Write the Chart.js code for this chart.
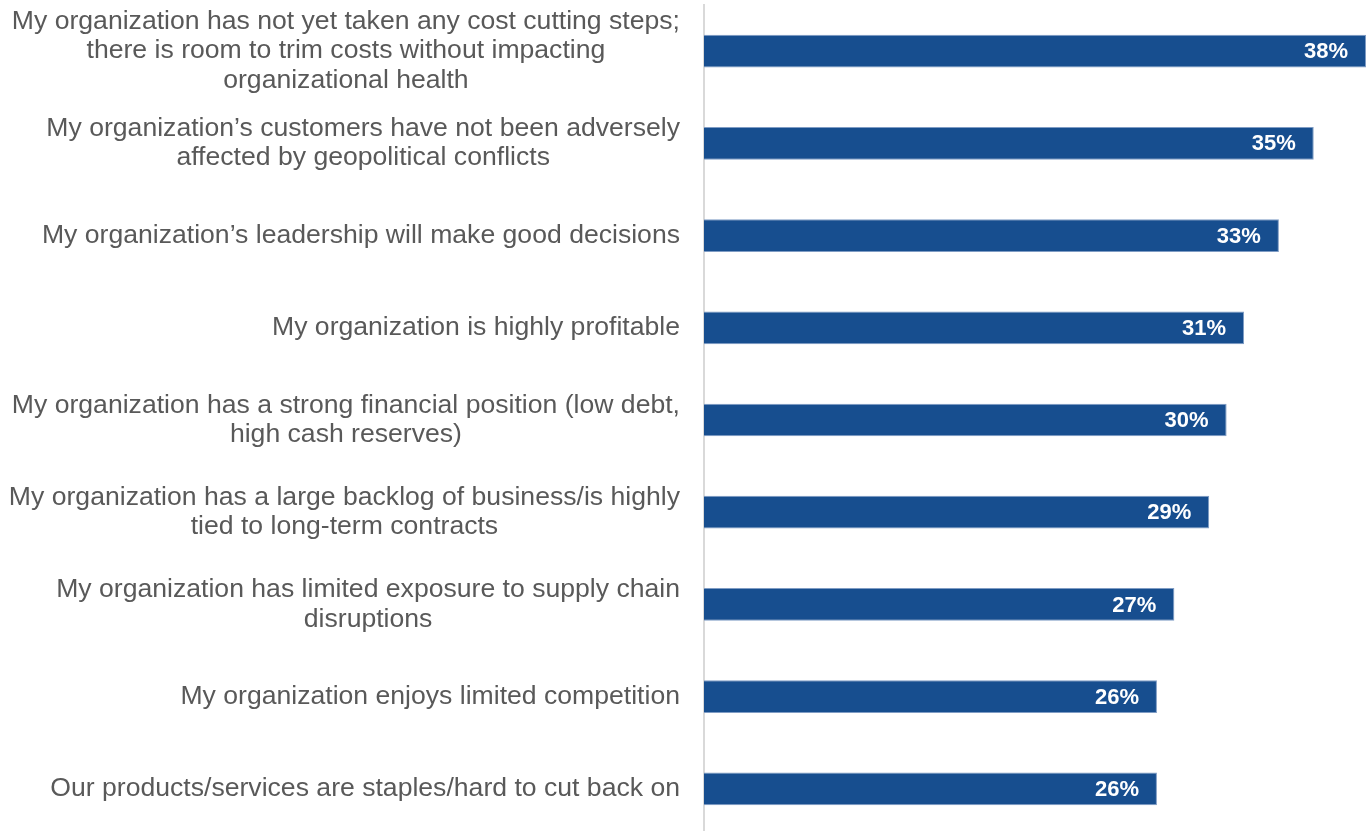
<!DOCTYPE html>
<html>
<head>
<meta charset="utf-8">
<script src="https://cdn.jsdelivr.net/npm/chart.js@4/dist/chart.umd.min.js"></script>
<style>
  html, body { margin: 0; padding: 0; background: #fff; overflow: hidden; }
  #wrap { position: absolute; left: 0; top: 0; width: 1367px; height: 836px; }
</style>
</head>
<body>
<div id="wrap"><canvas id="barChart"></canvas></div>
<script>
// Categories (one array per line of the label)
const categories = [
    ['My organization has not yet taken any cost cutting steps;', 'there is room to trim costs without impacting', 'organizational health'],
    ['My organization’s customers have not been adversely', 'affected by geopolitical conflicts'],
    ['My organization’s leadership will make good decisions'],
    ['My organization is highly profitable'],
    ['My organization has a strong financial position (low debt,', 'high cash reserves)'],
    ['My organization has a large backlog of business/is highly', 'tied to long-term contracts'],
    ['My organization has limited exposure to supply chain', 'disruptions'],
    ['My organization enjoys limited competition'],
    ['Our products/services are staples/hard to cut back on']
];
const values = [38, 35, 33, 31, 30, 29, 27, 26, 26];
const xMax = 38;

const LABEL_FONT = '26.6px "Liberation Sans", Arial, sans-serif';
const VALUE_FONT = 'bold 22px "Liberation Sans", Arial, sans-serif';
const AXIS_LEFT = 704;

// Category labels: each block centred on itself, blocks right-aligned against the axis
const categoryLabels = {
    id: 'categoryLabels',
    afterDraw(chart) {
        const ctx = chart.ctx;
        const y = chart.scales.y;
        const lineH = 29.5;
        ctx.save();
        ctx.font = LABEL_FONT;
        ctx.fillStyle = '#595959';
        ctx.textAlign = 'center';
        ctx.textBaseline = 'middle';
        categories.forEach((lines, i) => {
            const widest = Math.max(...lines.map(l => ctx.measureText(l).width));
            const cx = AXIS_LEFT - 24 - widest / 2;
            const cy = y.getPixelForTick(i);
            lines.forEach((line, j) => {
                ctx.fillText(line, cx, cy + (j - (lines.length - 1) / 2) * lineH);
            });
        });
        ctx.restore();
    }
};

// Percent values inside the end of each bar
const valueLabels = {
    id: 'valueLabels',
    afterDatasetsDraw(chart) {
        const ctx = chart.ctx;
        const meta = chart.getDatasetMeta(0);
        ctx.save();
        ctx.font = VALUE_FONT;
        ctx.fillStyle = '#ffffff';
        ctx.textAlign = 'right';
        ctx.textBaseline = 'middle';
        meta.data.forEach((bar, i) => {
            ctx.fillText(values[i] + '%', bar.x - 18, bar.y + 1);
        });
        ctx.restore();
    }
};

const ctx = document.getElementById('barChart').getContext('2d');
new Chart(ctx, {
    type: 'bar',
    data: {
        labels: categories,
        datasets: [{
            data: values,
            backgroundColor: '#174e8f',
            borderColor: '#7f9cc4',
            borderWidth: 1,
            categoryPercentage: 1,
            barPercentage: 0.355
        }]
    },
    options: {
        indexAxis: 'y',
        responsive: true,
        maintainAspectRatio: false,
        animation: false,
        layout: { padding: { top: 5, right: 1, bottom: 1, left: 0 } },
        plugins: {
            legend: { display: false },
            tooltip: { enabled: false }
        },
        scales: {
            x: {
                display: false,
                min: 0,
                max: xMax
            },
            y: {
                grid: { display: false, drawTicks: false },
                border: { display: true, color: '#d9d9d9', width: 2 },
                ticks: { display: false },
                afterFit(scale) { scale.width = AXIS_LEFT; }
            }
        }
    },
    plugins: [categoryLabels, valueLabels]
});
</script>
</body>
</html>
